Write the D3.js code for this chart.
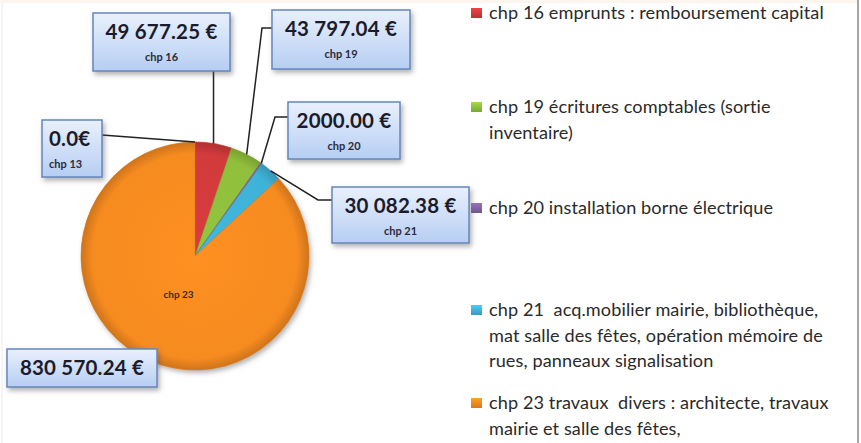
<!DOCTYPE html>
<html>
<head>
<meta charset="utf-8">
<script src="https://cdn.jsdelivr.net/npm/d3@7"></script>
<style>
  body { margin: 0; background: #fff; }
  svg { display: block; }
  text { white-space: pre; }
</style>
</head>
<body>
<script>
// data
var categories = ["chp 13", "chp 16", "chp 19", "chp 20", "chp 21", "chp 23"];
var values = [0, 49677.25, 43797.04, 2000.0, 30082.38, 830570.24];
var valueLabels = ["0.0€", "49 677.25 €", "43 797.04 €", "2000.00 €", "30 082.38 €", "830 570.24 €"];
var colors = ["#4f81bd", "#d23a3c", "#8fbf3c", "#8064a2", "#3fb2d8", "#f68b20"];

var legendCats = ["chp 16", "chp 19", "chp 20", "chp 21", "chp 23"];
var legendLines = [
  ["chp 16 emprunts : remboursement capital"],
  ["chp 19 écritures comptables (sortie", "inventaire)"],
  ["chp 20 installation borne électrique"],
  ["chp 21  acq.mobilier mairie, bibliothèque,", "mat salle des fêtes, opération mémoire de", "rues, panneaux signalisation"],
  ["chp 23 travaux  divers : architecte, travaux", "mairie et salle des fêtes,"]
];

var width = 861,
  height = 443;

var cx = 195,
  cy = 256,
  radius = 114;

// label boxes (layout)
var boxes = {
  "chp 13": { x: 42, y: 120, w: 60, h: 57, side: "right" },
  "chp 16": { x: 93, y: 13, w: 137, h: 58, side: "bottom" },
  "chp 19": { x: 272, y: 10, w: 138, h: 59, side: "left", ly: 28, ex: 262 },
  "chp 20": { x: 288, y: 102, w: 112, h: 57, side: "left", ly: 117, ex: 275 },
  "chp 21": { x: 332, y: 187, w: 137, h: 56, side: "left", ly: 200, ex: 318 },
  "chp 23": { x: 7, y: 349, w: 150, h: 38, side: "none" }
};
var legendY = [13, 107, 208, 310, 403];

var svg = d3
  .select("body")
  .append("svg")
  .attr("width", width)
  .attr("height", height);

var defs = svg.append("defs");

var shadow = defs.append("filter").attr("id", "shadow")
  .attr("x", "-20%").attr("y", "-20%").attr("width", "150%").attr("height", "150%");
shadow.append("feDropShadow")
  .attr("dx", 2).attr("dy", 3).attr("stdDeviation", 2.5)
  .attr("flood-color", "#555").attr("flood-opacity", 0.45);

var boxGrad = defs.append("linearGradient").attr("id", "boxGrad")
  .attr("x1", 0).attr("y1", 0).attr("x2", 0).attr("y2", 1);
boxGrad.append("stop").attr("offset", "0%").attr("stop-color", "#e9f0fc");
boxGrad.append("stop").attr("offset", "100%").attr("stop-color", "#b6cef3");

colors.forEach(function(c, i) {
  var g = defs.append("radialGradient").attr("id", "slice" + i)
    .attr("gradientUnits", "userSpaceOnUse")
    .attr("cx", 0).attr("cy", 0).attr("r", radius);
  g.append("stop").attr("offset", "0%").attr("stop-color", d3.color(c).brighter(0.1));
  g.append("stop").attr("offset", "90%").attr("stop-color", c);
  g.append("stop").attr("offset", "100%").attr("stop-color", d3.color(c).darker(0.5));
  var m = defs.append("linearGradient").attr("id", "mark" + i)
    .attr("x1", 0).attr("y1", 0).attr("x2", 0).attr("y2", 1);
  m.append("stop").attr("offset", "0%").attr("stop-color", d3.color(c).brighter(0.4));
  m.append("stop").attr("offset", "100%").attr("stop-color", d3.color(c).darker(0.4));
});

// frame borders
svg.append("line").attr("x1", 858).attr("x2", 858).attr("y1", 0).attr("y2", height)
  .attr("stroke", "#a5a5a5").attr("stroke-width", 2);
svg.append("line").attr("x1", 2).attr("x2", 2).attr("y1", 0).attr("y2", height)
  .attr("stroke", "#ececec").attr("stroke-width", 1);
svg.append("rect").attr("x", 0).attr("y", 0).attr("width", 857).attr("height", 3)
  .attr("fill", "#fdf6ee");

var pie = d3.pie().sort(null).startAngle(0).endAngle(2 * Math.PI);
var arcs = pie(values);

var arc = d3.arc().innerRadius(0).outerRadius(radius);

var gPie = svg.append("g").attr("transform", "translate(" + cx + "," + cy + ")");

gPie.append("circle").attr("r", radius).attr("fill", "#f68b20").attr("filter", "url(#shadow)");

gPie.selectAll("path.slice")
  .data(arcs)
  .join("path")
  .attr("class", "slice")
  .attr("d", arc)
  .attr("fill", function(d, i) { return "url(#slice" + i + ")"; })
  .attr("stroke", function(d, i) { return d3.color(colors[i]).darker(0.3); })
  .attr("stroke-width", 0.6);

// category text inside big slice
var big = arcs[5];
var inner = d3.arc().innerRadius(radius * 0.36).outerRadius(radius * 0.36);
gPie.append("text")
  .attr("x", inner.centroid(big)[0])
  .attr("y", inner.centroid(big)[1] + 4)
  .attr("text-anchor", "middle")
  .attr("font-family", "Lato, sans-serif")
  .attr("font-weight", "bold")
  .attr("font-size", 10)
  .attr("fill", "#3a2a1a")
  .text(categories[5]);

// leader lines
function anchor(d) {
  var a = (d.startAngle + d.endAngle) / 2;
  return [cx + radius * Math.sin(a), cy - radius * Math.cos(a)];
}

var gLead = svg.append("g").attr("fill", "none").attr("stroke", "#222").attr("stroke-width", 1.5);
arcs.forEach(function(d, i) {
  var b = boxes[categories[i]];
  var p = anchor(d);
  var pts;
  if (b.side === "none") return;
  if (b.side === "bottom") pts = [[p[0], b.y + b.h], p];
  else if (b.side === "right") pts = [[b.x + b.w, b.y + 15], p];
  else pts = [[b.x, b.ly], [b.ex, b.ly], p];
  gLead.append("path").attr("d", d3.line()(pts));
});

// label boxes
var gLab = svg.append("g");
arcs.forEach(function(d, i) {
  var b = boxes[categories[i]];
  var g = gLab.append("g");
  g.append("rect")
    .attr("x", b.x).attr("y", b.y).attr("width", b.w).attr("height", b.h)
    .attr("fill", "url(#boxGrad)")
    .attr("stroke", "#6487bd").attr("stroke-width", 1.5)
    .attr("filter", "url(#shadow)");
  var single = categories[i] === "chp 23";
  var small = categories[i] === "chp 13";
  g.append("text")
    .attr("x", b.x + (small ? 7 : b.w / 2))
    .attr("y", b.y + 26)
    .attr("text-anchor", small ? "start" : "middle")
    .attr("font-family", "Lato, sans-serif")
    .attr("font-weight", "bold")
    .attr("font-size", 20.5)
    .attr("letter-spacing", 0.2)
    .attr("fill", "#1b1b2b")
    .text(valueLabels[i]);
  if (!single) {
    g.append("text")
      .attr("x", b.x + (small ? 7 : b.w / 2))
      .attr("y", b.y + 48)
      .attr("text-anchor", small ? "start" : "middle")
      .attr("font-family", "Lato, sans-serif")
      .attr("font-weight", "bold")
      .attr("font-size", 11)
      .attr("fill", "#2b2b3b")
      .text(categories[i]);
  }
});

// legend
defs.append("clipPath").attr("id", "legClip")
  .append("rect").attr("x", 0).attr("y", 0).attr("width", 857).attr("height", height);

var gLeg = svg.append("g").attr("clip-path", "url(#legClip)");
legendCats.forEach(function(c, k) {
  var i = categories.indexOf(c);
  var y0 = legendY[k];
  gLeg.append("rect")
    .attr("x", 471).attr("y", y0 - 5).attr("width", 11).attr("height", 10)
    .attr("fill", "url(#mark" + i + ")");
  gLeg.selectAll(null)
    .data(legendLines[k])
    .join("text")
    .attr("x", 489)
    .attr("y", function(t, j) { return y0 + 6 + j * 25.5; })
    .attr("font-family", "Lato, sans-serif")
    .attr("font-size", 18.1)
    .attr("letter-spacing", 0.1)
    .attr("fill", "#2a2a2a")
    .text(function(t) { return t; });
});
</script>
</body>
</html>
